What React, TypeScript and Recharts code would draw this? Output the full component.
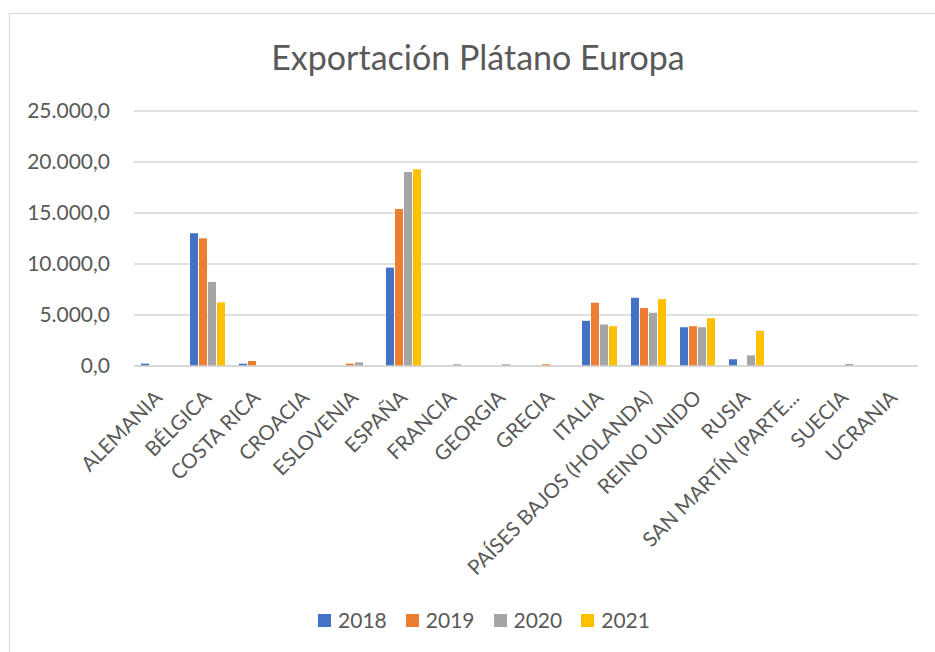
import React from 'react';
import { BarChart, Bar, XAxis, YAxis, CartesianGrid, Legend } from 'recharts';

const countries = [
  'ALEMANIA', 'BÉLGICA', 'COSTA RICA', 'CROACIA', 'ESLOVENIA', 'ESPAÑA', 'FRANCIA', 'GEORGIA',
  'GRECIA', 'ITALIA', 'PAÍSES BAJOS (HOLANDA)', 'REINO UNIDO', 'RUSIA', 'SAN MARTÍN (PARTE FRANCESA)',
  'SUECIA', 'UCRANIA',
];
const v2018 = [230, 13010, 230, 0, 0, 9650, 0, 0, 0, 4430, 6690, 3800, 660, 0, 0, 0];
const v2019 = [0, 12520, 490, 0, 230, 15390, 0, 0, 170, 6200, 5680, 3900, 0, 0, 0, 0];
const v2020 = [0, 8235, 0, 0, 360, 19020, 170, 170, 0, 4070, 5220, 3800, 1050, 0, 200, 0];
const v2021 = [0, 6245, 0, 0, 0, 19280, 0, 0, 0, 3900, 6560, 4690, 3440, 0, 0, 0];
const yTicks = [0, 5000, 10000, 15000, 20000, 25000];

const years = [
  { key: 'y2018', name: '2018', color: '#4472C4' },
  { key: 'y2019', name: '2019', color: '#ED7D31' },
  { key: 'y2020', name: '2020', color: '#A5A5A5' },
  { key: 'y2021', name: '2021', color: '#FFC000' },
];

const data = countries.map((c, i) => ({
  name: c,
  y2018: v2018[i],
  y2019: v2019[i],
  y2020: v2020[i],
  y2021: v2021[i],
}));

const FONT = 'Lato, "Open Sans", sans-serif';
const TEXT = '#595959';

// 25000 -> "25.000,0"
const fmt = (v: number) => {
  const s = Math.round(v).toString().replace(/\B(?=(\d{3})+(?!\d))/g, '.');
  return s + ',0';
};

// long labels get cut like Excel does
const shorten = (s: string) => (s.length > 24 ? s.slice(0, 17) + '...' : s);

const CountryTick = ({ x, y, payload }: any) => (
  <text
    x={x + 5}
    y={y + 25}
    transform={`rotate(-45, ${x + 5}, ${y + 25})`}
    textAnchor="end"
    fill={TEXT}
    fontSize={20.5}
    fontFamily={FONT}
  >
    {shorten(payload.value)}
  </text>
);

const LegendRow = () => (
  <div style={{ display: 'flex', justifyContent: 'center', gap: 19, fontFamily: FONT, fontSize: 21, color: TEXT, lineHeight: '24px', paddingLeft: 50 }}>
    {years.map((y) => (
      <div key={y.key} style={{ display: 'flex', alignItems: 'center', gap: 7 }}>
        <span style={{ width: 13, height: 13, background: y.color, display: 'inline-block' }} />
        <span>{y.name}</span>
      </div>
    ))}
  </div>
);

export default function App() {
  return (
    <div style={{ position: 'absolute', left: 0, top: 0, width: 935, height: 652, background: '#fff', overflow: 'hidden' }}>
      <div style={{ position: 'absolute', left: 9, top: 13, width: 940, height: 660, border: '1px solid #d9d9d9' }} />
      <div
        style={{
          position: 'absolute', left: 0, width: 956, top: 37, textAlign: 'center',
          fontFamily: FONT, fontSize: 34, color: TEXT, lineHeight: '40px',
        }}
      >
        Exportación Plátano Europa
      </div>
      <BarChart
        width={935}
        height={652}
        data={data}
        margin={{ top: 111, right: 17, left: 0, bottom: 20 }}
        barCategoryGap={7}
        barGap={1}
        style={{ position: 'absolute', left: 0, top: 0 }}
      >
        <CartesianGrid vertical={false} stroke="#d4d4d4" strokeWidth={1.6} />
        <XAxis
          dataKey="name"
          interval={0}
          height={242}
          tickLine={false}
          axisLine={{ stroke: '#d4d4d4', strokeWidth: 1.6 }}
          tick={<CountryTick />}
        />
        <YAxis
          width={134}
          domain={[0, 25000]}
          ticks={yTicks}
          tickFormatter={fmt}
          axisLine={false}
          tickLine={false}
          tickMargin={18}
          tick={{ fill: TEXT, fontSize: 21, fontFamily: FONT }}
        />
        <Legend verticalAlign="bottom" height={24} wrapperStyle={{ bottom: 20 }} content={<LegendRow />} />
        {years.map((y) => (
          <Bar key={y.key} dataKey={y.key} name={y.name} fill={y.color} barSize={8} isAnimationActive={false} />
        ))}
      </BarChart>
    </div>
  );
}
